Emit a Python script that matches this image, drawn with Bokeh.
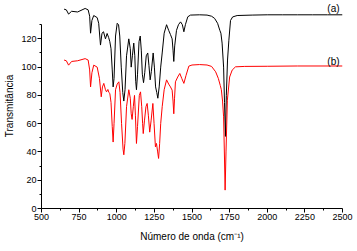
from bokeh.plotting import figure
from bokeh.models import FixedTicker, Range1d, Label
from bokeh.embed import file_html
from bokeh.resources import INLINE

# Spectrum (a) - black
wn_a = [650, 665, 680, 700, 740, 790, 810, 820, 826, 835, 847, 870, 880, 892, 902, 912, 925, 936, 946, 954,
        962, 970, 976, 982, 992, 1003, 1012, 1020, 1030, 1040, 1047, 1055, 1065, 1080, 1090, 1096, 1104, 1113,
        1120, 1126, 1131, 1138, 1148, 1156, 1163, 1170, 1178, 1186, 1196, 1206, 1214, 1222, 1230, 1242, 1250,
        1258, 1266, 1273, 1282, 1292, 1302, 1315, 1331, 1345, 1357, 1368, 1374, 1379, 1385, 1397, 1410, 1424,
        1436, 1446, 1456, 1472, 1490, 1550, 1600, 1630, 1650, 1670, 1685, 1692, 1700, 1710, 1716, 1722, 1728,
        1736, 1745, 1756, 1770, 1800, 1900, 2000, 2100, 2200, 2300, 2400, 2500]
t_a = [141, 140.5, 137.5, 139.5, 139, 141.5, 140.5, 136, 124, 133, 136.5, 135, 131, 115.6, 124, 125, 120, 123.8, 121, 118,
       113, 98, 86, 92, 122, 131, 130, 122, 100, 82, 76, 84, 108, 120, 113, 100, 108, 117,
       108, 90, 84, 95, 118, 122, 112, 95, 89, 96, 108, 110, 101, 91, 97, 110, 100,
       86, 82, 78, 86, 100, 110, 124, 130, 126, 123, 120, 112, 104, 115, 126, 130, 132,
       130, 125, 130, 135.6, 136.8, 137, 136.8, 136, 134.5, 131, 126, 124, 117, 100, 75, 51, 80,
       105, 119, 133, 135.5, 136.5, 136.8, 137, 137, 137, 137, 137, 137]

# Spectrum (b) - red
wn_b = [650, 665, 680, 700, 740, 790, 810, 820, 826, 835, 847, 870, 885, 897, 905, 914, 925, 932, 941, 948,
        954, 962, 970, 976, 982, 992, 1003, 1014, 1022, 1032, 1042, 1047, 1054, 1065, 1080, 1090, 1096, 1102,
        1110, 1118, 1124, 1131, 1138, 1150, 1158, 1166, 1172, 1176, 1184, 1194, 1202, 1210, 1219, 1228, 1240,
        1248, 1257, 1264, 1272, 1278, 1285, 1292, 1302, 1315, 1331, 1345, 1357, 1368, 1374, 1379, 1384, 1390,
        1405, 1419, 1432, 1446, 1460, 1479, 1500, 1550, 1600, 1630, 1657, 1675, 1688, 1695, 1703, 1710, 1716,
        1720, 1726, 1735, 1750, 1767, 1789, 1850, 2000, 2200, 2500]
t_b = [105, 104.5, 101.4, 104, 104.5, 106, 105, 98, 86, 96, 101.4, 100, 92, 79, 86, 88.5, 84, 82.5, 84.2, 82,
       81.4, 75, 58, 47, 60, 84, 88, 89.6, 82, 60, 42, 38, 46, 72, 84, 78, 67, 63,
       72, 80, 66, 46, 58, 80, 82.5, 72, 60, 53, 62, 72, 74.3, 66, 54, 62, 74.3,
       60, 43.6, 46, 40, 35.4, 46, 60, 72, 84, 91, 88, 86, 83.7, 76, 67, 78, 89.6,
       93, 95.5, 92, 88.5, 94, 100.7, 101.5, 101.8, 101.5, 100.5, 96.7, 92, 87, 84, 76, 64.8, 35,
       13, 40, 76.6, 93, 97.9, 100.2, 100.5, 100.6, 100.8, 100.8]

x_major = [500, 750, 1000, 1250, 1500, 1750, 2000, 2250, 2500]
x_minor = [625, 875, 1125, 1375, 1625, 1875, 2125, 2375]
y_major = [0, 20, 40, 60, 80, 100, 120]
y_minor = [10, 30, 50, 70, 90, 110, 130]

FONT = "Liberation Sans"

p = figure(width=357, height=251, output_backend="svg", toolbar_location=None,
           x_range=Range1d(500, 2500), y_range=Range1d(0, 145),
           min_border_left=41, min_border_right=15, min_border_top=3, min_border_bottom=43)
p.outline_line_color = None
p.xgrid.visible = False
p.ygrid.visible = False

p.line(wn_a, t_a, line_color="black", line_width=1)
p.line(wn_b, t_b, line_color="#ff0000", line_width=1)

p.xaxis.ticker = FixedTicker(ticks=x_major, minor_ticks=x_minor)
p.yaxis.ticker = FixedTicker(ticks=y_major, minor_ticks=y_minor)
p.yaxis.bounds = (0, 130)
p.xaxis.bounds = (500, 2500)
for ax in (p.xaxis[0], p.yaxis[0]):
    ax.major_tick_out = 4
    ax.major_tick_in = 0
    ax.minor_tick_out = 2
    ax.minor_tick_in = 0
    ax.major_label_text_font = FONT
    ax.major_label_text_font_size = "9px"
    ax.major_label_text_color = "black"
    ax.axis_label_text_font = FONT
    ax.axis_label_text_font_size = "10px"
    ax.axis_label_text_font_style = "normal"
    ax.axis_label_text_color = "black"
    ax.axis_line_color = "black"
    ax.major_tick_line_color = "black"
    ax.minor_tick_line_color = "black"
    ax.major_label_standoff = 1
    ax.axis_label_standoff = 3
p.xaxis.axis_label_standoff = 8

p.xaxis.axis_label = "Número de onda (cm⁻¹)"
p.yaxis.axis_label = "Transmitância"

p.add_layout(Label(x=2440, y=141.5, text="(a)", text_align="center", text_baseline="middle",
                   text_font=FONT, text_font_size="10px", text_color="black"))
p.add_layout(Label(x=2440, y=104, text="(b)", text_align="center", text_baseline="middle",
                   text_font=FONT, text_font_size="10px", text_color="black"))

open("out.html", "w").write(file_html(p, INLINE))
